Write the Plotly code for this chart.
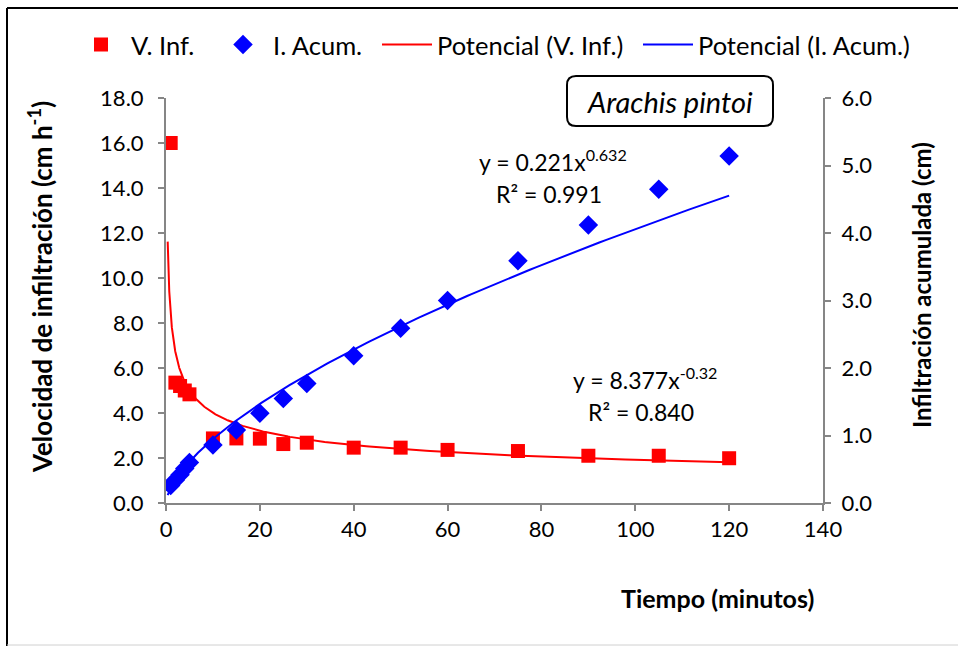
import numpy as np
import plotly.graph_objects as go

# ---- data ----
tiempo = [1, 2, 3, 4, 5, 10, 15, 20, 25, 30, 40, 50, 60, 75, 90, 105, 120]
vel_inf = [16.0, 5.35, 5.2, 5.0, 4.83, 2.87, 2.87, 2.86, 2.62, 2.68, 2.46, 2.46,
           2.36, 2.31, 2.10, 2.10, 1.99]
inf_acum = [0.26, 0.34, 0.42, 0.51, 0.60, 0.86, 1.08, 1.33, 1.55, 1.77, 2.18, 2.59,
            3.00, 3.59, 4.12, 4.65, 5.14]

# power trendlines (Excel "Potencial")
coef_v, exp_v = 8.377, -0.32
coef_i, exp_i = 0.221, 0.632
fit_start, fit_end = 0.36, 120

x_fit = np.geomspace(fit_start, fit_end, 400)
y_fit_v = coef_v * x_fit ** exp_v
y_fit_i = coef_i * x_fit ** exp_i

W, H = 958, 646
L, R, T, B = 166, 135, 98, 143
PW, PH = W - L - R, H - T - B


def px(x):
    return (x - L) / PW


def py(y):
    return (H - B - y) / PH


FONT = "Lato, 'Open Sans', sans-serif"
GRAY = "#868686"

fig = go.Figure()
fig.add_trace(go.Scatter(x=tiempo, y=vel_inf, mode="markers", name="V. Inf.",
                         marker=dict(symbol="square", color="#ff0000", size=14),
                         legend="legend"))
fig.add_trace(go.Scatter(x=tiempo, y=inf_acum, mode="markers", name="I. Acum.",
                         marker=dict(symbol="diamond", color="#0000ff", size=15),
                         yaxis="y2", legend="legend2"))
fig.add_trace(go.Scatter(x=x_fit, y=y_fit_v, mode="lines", name="Potencial (V. Inf.)",
                         line=dict(color="#ff0000", width=2), legend="legend3"))
fig.add_trace(go.Scatter(x=x_fit, y=y_fit_i, mode="lines", name="Potencial (I. Acum.)",
                         line=dict(color="#0000ff", width=2), yaxis="y2",
                         legend="legend4"))

axis_common = dict(showline=True, linecolor=GRAY, linewidth=2, ticks="outside",
                   ticklen=6, tickwidth=2, tickcolor=GRAY, showgrid=False,
                   zeroline=False, tickfont=dict(family=FONT, size=22, color="black"))


def leg(xpix):
    return dict(orientation="h", x=px(xpix), y=py(45), xanchor="left",
                yanchor="middle", font=dict(family=FONT, size=25.5, color="black"),
                bgcolor="rgba(0,0,0,0)", itemwidth=50)


fig.update_layout(
    width=W, height=H,
    margin=dict(l=L, r=R, t=T, b=B),
    paper_bgcolor="white", plot_bgcolor="white",
    font=dict(family=FONT, color="black"),
    xaxis=dict(range=[0, 140], dtick=20, **axis_common),
    yaxis=dict(range=[0, 18], dtick=2, tickformat=".1f", ticklabelstandoff=10,
               **axis_common),
    yaxis2=dict(range=[0, 6], dtick=1, tickformat=".1f", overlaying="y",
                side="right", ticklabelstandoff=6, **axis_common),
    showlegend=True,
    legend=leg(71), legend2=leg(213), legend3=leg(377), legend4=leg(638),
)

annotations = [
    dict(x=px(40), y=py(287), text="<b>Velocidad de infiltración (cm h<sup>-1</sup>)</b>",
         textangle=-90, font=dict(size=26)),
    dict(x=px(921), y=py(285), text="<b>Infiltración acumulada (cm)</b>",
         textangle=-90, font=dict(size=24)),
    dict(x=px(717), y=py(598), text="<b>Tiempo (minutos)</b>", font=dict(size=25)),
    dict(x=px(670), y=py(101), text="<i>Arachis pintoi</i>", font=dict(size=29)),
    dict(x=px(553), y=py(160), text="y = 0.221x<sup>0.632</sup>", font=dict(size=23)),
    dict(x=px(549), y=py(194), text="R² = 0.991", font=dict(size=23)),
    dict(x=px(645), y=py(378), text="y = 8.377x<sup>-0.32</sup>", font=dict(size=23)),
    dict(x=px(641), y=py(412), text="R² = 0.840", font=dict(size=23)),
]
for a in annotations:
    a.update(xref="paper", yref="paper", showarrow=False,
             xanchor="center", yanchor="middle")
    a["font"].update(family=FONT, color="black")
fig.update_layout(annotations=annotations)

# rounded box around the species name
bx0, bx1, by0, by1, r = 567, 773, 76, 126, 9
rx, ry = r / PW, r / PH
x0, x1, y0, y1 = px(bx0), px(bx1), py(by1), py(by0)
path = (f"M {x0+rx},{y1} L {x1-rx},{y1} Q {x1},{y1} {x1},{y1-ry} "
        f"L {x1},{y0+ry} Q {x1},{y0} {x1-rx},{y0} L {x0+rx},{y0} "
        f"Q {x0},{y0} {x0},{y0+ry} L {x0},{y1-ry} Q {x0},{y1} {x0+rx},{y1} Z")
shapes = [
    dict(type="path", path=path, xref="paper", yref="paper",
         line=dict(color="black", width=2), fillcolor="white"),
    # outer chart frame
    dict(type="line", xref="paper", yref="paper", x0=px(7), x1=px(960),
         y0=py(8), y1=py(8), line=dict(color="black", width=2)),
    dict(type="line", xref="paper", yref="paper", x0=px(7), x1=px(7),
         y0=py(8), y1=py(646), line=dict(color="black", width=2)),
    dict(type="line", xref="paper", yref="paper", x0=px(7), x1=px(960),
         y0=py(645), y1=py(645), line=dict(color="#d0d0d0", width=1)),
]
fig.update_layout(shapes=shapes)

fig.write_html("out.html")
